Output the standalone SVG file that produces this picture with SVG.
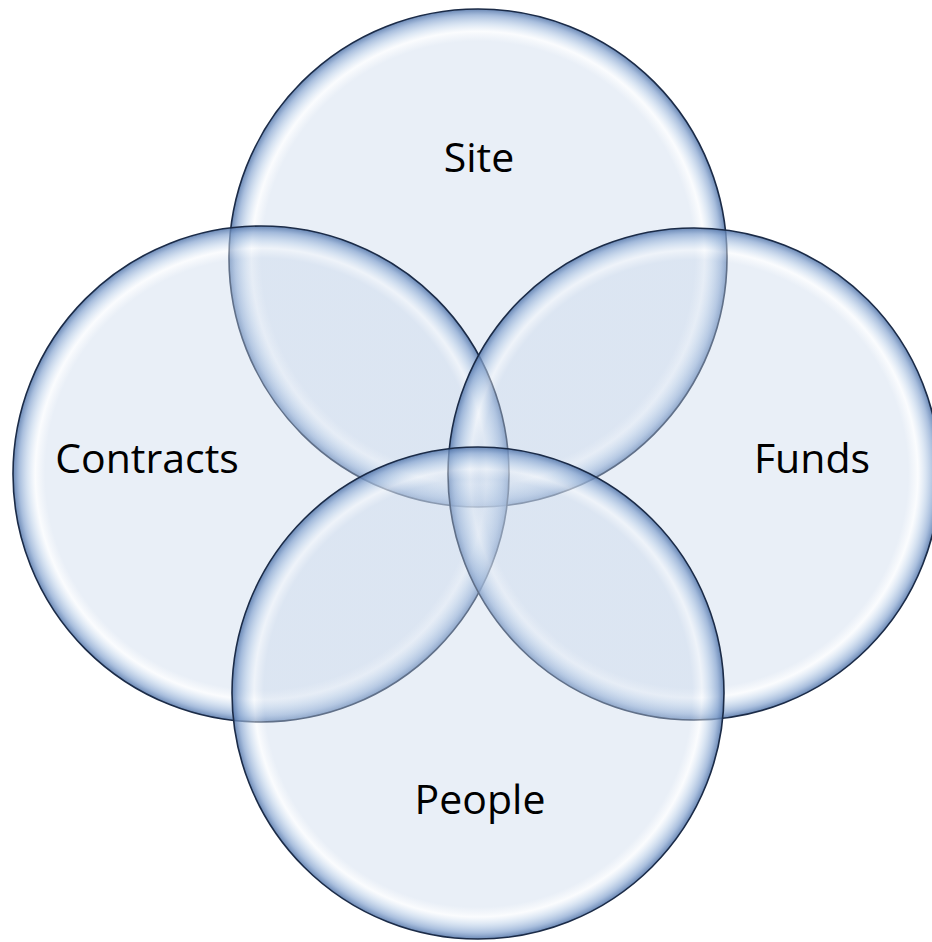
<svg xmlns="http://www.w3.org/2000/svg" width="932" height="942" viewBox="0 0 932 942">
  <defs>
    <radialGradient id="bubble" cx="50%" cy="50%" r="50%">
      <stop offset="0" stop-color="rgb(200,215,235)" stop-opacity="0.4"/>
      <stop offset="0.87" stop-color="rgb(200,215,235)" stop-opacity="0.4"/>
      <stop offset="0.91" stop-color="rgb(245,248,252)" stop-opacity="0.45"/>
      <stop offset="0.94" stop-color="rgb(190,210,234)" stop-opacity="0.55"/>
      <stop offset="0.975" stop-color="rgb(135,165,208)" stop-opacity="0.72"/>
      <stop offset="1" stop-color="rgb(80,115,168)" stop-opacity="0.85"/>
    </radialGradient>
  </defs>
  <style>
    .bub { fill: url(#bubble); stroke: #1b2b47; stroke-width: 1.6; }
    .lbl { font-family: "Open Sans", "Noto Sans", "Liberation Sans", sans-serif; font-size: 41px; fill: #000; text-anchor: middle; }
  </style>
  <rect width="932" height="942" fill="#ffffff"/>
  <g id="site">
    <circle class="bub" cx="478" cy="258" r="249"/>
  </g>
  <g id="contracts">
    <circle class="bub" cx="261" cy="474" r="248"/>
  </g>
  <g id="funds">
    <circle class="bub" cx="694" cy="474" r="246"/>
  </g>
  <g id="people">
    <circle class="bub" cx="478" cy="693" r="246"/>
  </g>
  <g id="labels">
    <text class="lbl" x="479" y="172">Site</text>
    <text class="lbl" x="147" y="473">Contracts</text>
    <text class="lbl" x="812" y="473">Funds</text>
    <text class="lbl" x="480" y="814">People</text>
  </g>
  <g id="connectors"/>
</svg>
